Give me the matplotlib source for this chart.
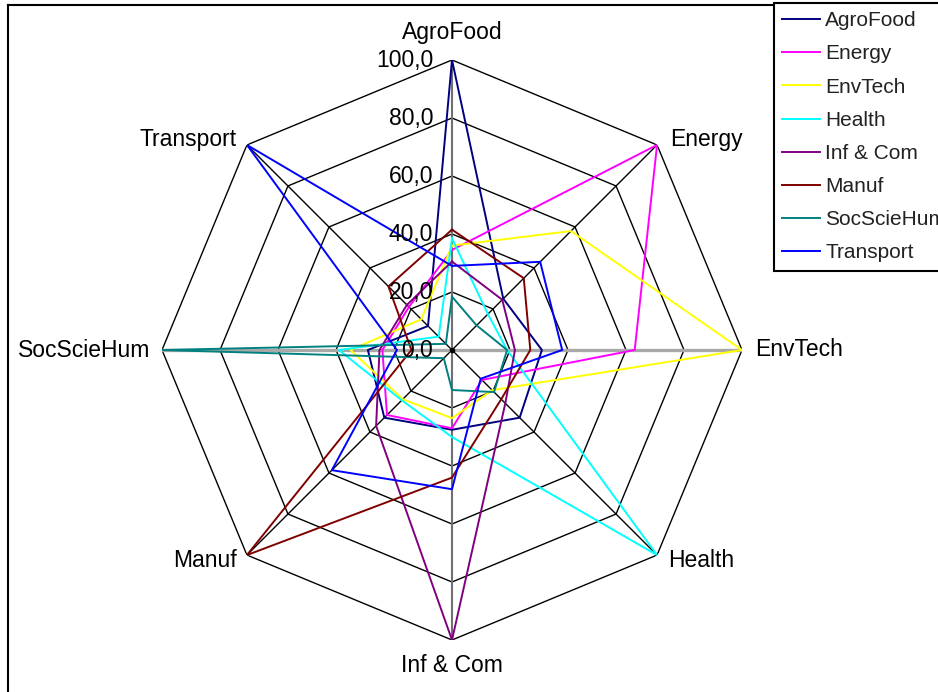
import numpy as np
import matplotlib
matplotlib.use("Agg")
import matplotlib.pyplot as plt
from matplotlib.transforms import offset_copy
from matplotlib.lines import Line2D

plt.rcParams['font.family'] = ['Liberation Sans', 'DejaVu Sans']

# Technology fields (axes, clockwise from top)
categories = ["AgroFood", "Energy", "EnvTech", "Health",
              "Inf & Com", "Manuf", "SocScieHum", "Transport"]

# Profile of each field over all fields (own field = 100)
agrofood = [100.0, 25.0, 31.0, 33.0, 27.5, 33.0, 29.0, 11.7]
energy = [34.5, 100.0, 63.0, 14.6, 27.0, 31.7, 24.0, 21.0]
envtech = [36.0, 58.0, 100.0, 19.6, 23.5, 24.0, 35.0, 15.0]
health = [38.5, 17.5, 19.0, 100.0, 30.0, 24.5, 39.0, 6.5]
infcom = [30.5, 24.5, 21.7, 26.0, 100.0, 37.0, 25.0, 22.0]
manuf = [41.5, 35.0, 27.0, 24.0, 44.0, 100.0, 14.0, 31.0]
socscihum = [18.4, 12.0, 19.0, 20.5, 13.8, 4.0, 100.0, 3.0]
transport = [29.0, 43.0, 38.0, 14.0, 48.0, 58.6, 19.0, 100.0]

series_names = ["AgroFood", "Energy", "EnvTech", "Health",
                "Inf & Com", "Manuf", "SocScieHum", "Transport"]
series_values = [agrofood, energy, envtech, health,
                 infcom, manuf, socscihum, transport]
series_colors = ["#000080", "#FF00FF", "#FFFF00", "#00FFFF",
                 "#800080", "#800000", "#008080", "#0000FF"]

ring_values = [0, 20, 40, 60, 80, 100]
ring_labels = ["0,0", "20,0", "40,0", "60,0", "80,0", "100,0"]

W, H = 938, 692
fig = plt.figure(figsize=(W / 100, H / 100), dpi=100)
fig.patch.set_facecolor("white")

cx, cy, R = 452, 350, 290
ax = fig.add_axes([(cx - R) / W, (H - cy - R) / H, 2 * R / W, 2 * R / H],
                  projection="polar")
ax.set_theta_offset(np.pi / 2)
ax.set_theta_direction(-1)
ax.set_ylim(0, 100)
ax.grid(False)
ax.set_xticks([])
ax.set_yticks([])
ax.spines["polar"].set_visible(False)
ax.patch.set_alpha(0)

n = len(categories)
theta = np.arange(n) * 2 * np.pi / n
theta_closed = np.append(theta, theta[0])

# octagonal grid rings
for v in ring_values[1:]:
    ax.plot(theta_closed, [v] * (n + 1), color="black", lw=1.0, zorder=1)

# diagonal spokes in black, horizontal and vertical axes in grey
for i, t in enumerate(theta):
    if i in (1, 3, 5, 7):
        ax.plot([t, t], [0, 100], color="black", lw=1.0, zorder=1)
for i in (2, 6):
    ax.plot([theta[i], theta[i]], [0, 100], color="#a8a8a8", lw=2.4, zorder=1)
for i in (0, 4):
    ax.plot([theta[i], theta[i]], [0, 100], color="#707070", lw=1.5, zorder=1)

# data polygons
handles = []
for name, vals, col in zip(series_names, series_values, series_colors):
    vc = list(vals) + [vals[0]]
    ln, = ax.plot(theta_closed, vc, color=col, lw=1.4, zorder=3, label=name)
    handles.append(ln)

ax.plot([0], [0], "o", color="black", ms=3, zorder=4)

# value labels along the vertical axis
tick_tr = offset_copy(ax.transData, fig=fig, x=-19, y=0, units="dots")
for v, lab in zip(ring_values, ring_labels):
    ax.text(theta[0], v, lab, transform=tick_tr, ha="right", va="center",
            fontsize=16.5, color="black", zorder=5)

# category labels
label_offsets = [(0, 27, "center"), (13, 5, "left"), (13, 0, "left"),
                 (11, -5, "left"), (0, -25, "center"), (-10, -5, "right"),
                 (-12, 0, "right"), (-10, 5, "right")]
for t, cat, (dx, dy, ha) in zip(theta, categories, label_offsets):
    tr = offset_copy(ax.transData, fig=fig, x=dx, y=dy, units="dots")
    ax.text(t, 100, cat, transform=tr, ha=ha, va="center",
            fontsize=16.5, color="black")

# outer frame (top and left edges)
fig.add_artist(Line2D([8 / W, 775 / W], [1 - 5 / H, 1 - 5 / H],
                      color="black", lw=1.5, transform=fig.transFigure))
fig.add_artist(Line2D([8 / W, 8 / W], [0, 1 - 5 / H],
                      color="black", lw=1.5, transform=fig.transFigure))

leg = fig.legend(handles=handles, loc="upper left",
                 bbox_to_anchor=(774 / W, 1 - 3 / H),
                 fontsize=15, handlelength=1.8, handletextpad=0.25,
                 labelspacing=0.68, borderpad=0.4, borderaxespad=0,
                 fancybox=False, framealpha=1, edgecolor="black")
leg.get_frame().set_linewidth(1.5)
for txt in leg.get_texts():
    txt.set_color("#222222")

fig.savefig("out.png", dpi=100)
